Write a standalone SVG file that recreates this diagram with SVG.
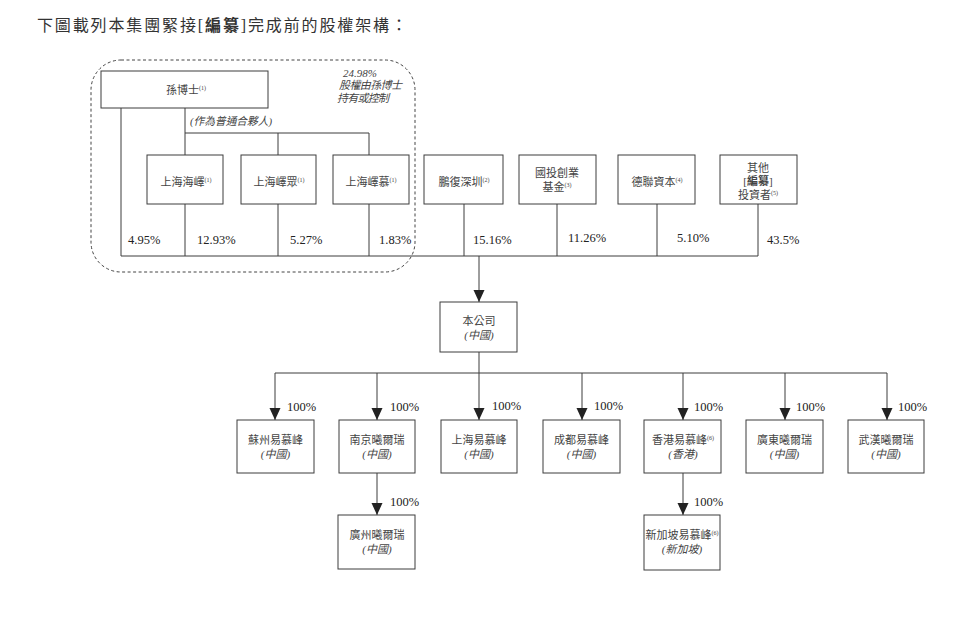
<svg xmlns="http://www.w3.org/2000/svg" width="960" height="627" viewBox="0 0 960 627">
<style>
  .bg{fill:#ffffff}
  .box{fill:#ffffff;stroke:#3c3c3c;stroke-width:1}
  .ln{stroke:#3c3c3c;stroke-width:1;fill:none}
  .dash{fill:none;stroke:#444;stroke-width:1;stroke-dasharray:3,2.5}
  .t{font-family:"Liberation Serif","Noto Sans CJK TC",serif;font-size:11px;fill:#444;text-anchor:middle}
  .it{font-style:italic}
  .st{text-anchor:start}
  .pct{font-family:"Liberation Serif","Noto Sans CJK TC",serif;font-size:12.5px;fill:#222}
  .sup{font-size:6px}
  .title{font-family:"Liberation Serif","Noto Sans CJK TC",serif;font-size:16px;fill:#333}
</style>
<defs>
  <marker id="ah" markerUnits="userSpaceOnUse" markerWidth="12" markerHeight="13" refX="12" refY="6" orient="auto" viewBox="0 0 12 12">
    <path d="M0,0.5 L12,6 L0,11.5 Z" fill="#222"/>
  </marker>
</defs>
<rect class="bg" x="0" y="0" width="960" height="627"/>

<text class="title" x="37" y="31" textLength="370" lengthAdjust="spacing">下圖載列本集團緊接[<tspan font-weight="bold">編纂</tspan>]完成前的股權架構：</text>

<g id="group-sun">
  <rect class="dash" x="91" y="60" width="324" height="212" rx="30" ry="30"/>
  <text class="t it st" x="343" y="77">24.98%</text>
  <text class="t it st" x="339" y="89" textLength="63" lengthAdjust="spacing">股權由孫博士</text>
  <text class="t it st" x="337" y="102" textLength="52" lengthAdjust="spacing">持有或控制</text>
</g>

<g id="connectors">
  <line class="ln" x1="121" y1="108" x2="121" y2="256"/>
  <line class="ln" x1="185" y1="108" x2="185" y2="133"/>
  <line class="ln" x1="185" y1="133" x2="369" y2="133"/>
  <line class="ln" x1="185" y1="133" x2="185" y2="155"/>
  <line class="ln" x1="278" y1="133" x2="278" y2="155"/>
  <line class="ln" x1="369" y1="133" x2="369" y2="155"/>
  <line class="ln" x1="185" y1="204" x2="185" y2="256"/>
  <line class="ln" x1="278" y1="204" x2="278" y2="256"/>
  <line class="ln" x1="369" y1="204" x2="369" y2="256"/>
  <line class="ln" x1="464" y1="204" x2="464" y2="256"/>
  <line class="ln" x1="557" y1="204" x2="557" y2="256"/>
  <line class="ln" x1="657" y1="204" x2="657" y2="256"/>
  <line class="ln" x1="758" y1="204" x2="758" y2="256"/>
  <line class="ln" x1="121" y1="256" x2="758" y2="256"/>
  <line class="ln" x1="479" y1="256" x2="479" y2="302" marker-end="url(#ah)"/>
  <line class="ln" x1="479" y1="352" x2="479" y2="373"/>
  <line class="ln" x1="275" y1="373" x2="887" y2="373"/>
  <line class="ln" x1="275" y1="373" x2="275" y2="420" marker-end="url(#ah)"/>
  <line class="ln" x1="377" y1="373" x2="377" y2="420" marker-end="url(#ah)"/>
  <line class="ln" x1="479" y1="373" x2="479" y2="420" marker-end="url(#ah)"/>
  <line class="ln" x1="582" y1="373" x2="582" y2="420" marker-end="url(#ah)"/>
  <line class="ln" x1="683" y1="373" x2="683" y2="420" marker-end="url(#ah)"/>
  <line class="ln" x1="785" y1="373" x2="785" y2="420" marker-end="url(#ah)"/>
  <line class="ln" x1="887" y1="373" x2="887" y2="420" marker-end="url(#ah)"/>
  <line class="ln" x1="377" y1="473" x2="377" y2="515" marker-end="url(#ah)"/>
  <line class="ln" x1="683" y1="473" x2="683" y2="515" marker-end="url(#ah)"/>

  <text class="t it st" x="190" y="125" textLength="82" lengthAdjust="spacingAndGlyphs">(作為普通合夥人)</text>

  <text class="pct" x="128" y="244">4.95%</text>
  <text class="pct" x="197" y="244">12.93%</text>
  <text class="pct" x="290" y="244">5.27%</text>
  <text class="pct" x="379" y="244">1.83%</text>
  <text class="pct" x="473" y="244">15.16%</text>
  <text class="pct" x="568" y="242">11.26%</text>
  <text class="pct" x="677" y="242">5.10%</text>
  <text class="pct" x="767" y="244">43.5%</text>

  <text class="pct" x="287" y="411">100%</text>
  <text class="pct" x="390" y="411">100%</text>
  <text class="pct" x="492" y="410">100%</text>
  <text class="pct" x="594" y="410">100%</text>
  <text class="pct" x="694" y="411">100%</text>
  <text class="pct" x="796" y="411">100%</text>
  <text class="pct" x="898" y="411">100%</text>
  <text class="pct" x="390" y="506">100%</text>
  <text class="pct" x="694" y="506">100%</text>
</g>

<g id="n-sun">
  <rect class="box" x="101" y="71" width="167" height="37"/>
  <text class="t" x="186" y="94">孫博士<tspan class="sup" dy="-4">(1)</tspan></text>
</g>
<g id="n-haiyi">
  <rect class="box" x="147" y="155" width="76" height="49"/>
  <text class="t" x="186" y="186">上海海嶧<tspan class="sup" dy="-4">(1)</tspan></text>
</g>
<g id="n-yizhong">
  <rect class="box" x="241" y="155" width="75" height="49"/>
  <text class="t" x="279" y="186">上海嶧眾<tspan class="sup" dy="-4">(1)</tspan></text>
</g>
<g id="n-yimu">
  <rect class="box" x="333" y="155" width="76" height="49"/>
  <text class="t" x="371" y="186">上海嶧慕<tspan class="sup" dy="-4">(1)</tspan></text>
</g>
<g id="n-pengfu">
  <rect class="box" x="424" y="155" width="79" height="49"/>
  <text class="t" x="464" y="186">鵬復深圳<tspan class="sup" dy="-4">(2)</tspan></text>
</g>
<g id="n-guotou">
  <rect class="box" x="519" y="155" width="77" height="49"/>
  <text class="t" x="557" y="177">國投創業</text>
  <text class="t" x="557" y="191">基金<tspan class="sup" dy="-4">(3)</tspan></text>
</g>
<g id="n-delian">
  <rect class="box" x="618" y="155" width="77" height="49"/>
  <text class="t" x="657" y="186">德聯資本<tspan class="sup" dy="-4">(4)</tspan></text>
</g>
<g id="n-others">
  <rect class="box" x="720" y="155" width="77" height="49"/>
  <text class="t" x="758" y="172">其他</text>
  <text class="t" x="758" y="185">[<tspan font-weight="bold">編纂</tspan>]</text>
  <text class="t" x="758" y="199">投資者<tspan class="sup" dy="-4">(5)</tspan></text>
</g>

<g id="n-company">
  <rect class="box" x="440" y="302" width="77" height="50"/>
  <text class="t" x="479" y="325">本公司</text>
  <text class="t it" x="479" y="339">(中國)</text>
</g>

<g id="n-suzhou">
  <rect class="box" x="237" y="420" width="77" height="53"/>
  <text class="t" x="275.5" y="444">蘇州易慕峰</text>
  <text class="t it" x="275.5" y="458">(中國)</text>
</g>
<g id="n-nanjing">
  <rect class="box" x="339" y="420" width="76" height="53"/>
  <text class="t" x="377" y="444">南京曦爾瑞</text>
  <text class="t it" x="377" y="458">(中國)</text>
</g>
<g id="n-shanghai">
  <rect class="box" x="441" y="420" width="76" height="53"/>
  <text class="t" x="479" y="444">上海易慕峰</text>
  <text class="t it" x="479" y="458">(中國)</text>
</g>
<g id="n-chengdu">
  <rect class="box" x="543" y="420" width="77" height="53"/>
  <text class="t" x="581.5" y="444">成都易慕峰</text>
  <text class="t it" x="581.5" y="458">(中國)</text>
</g>
<g id="n-hongkong">
  <rect class="box" x="644" y="420" width="77" height="53"/>
  <text class="t" x="683" y="444">香港易慕峰<tspan class="sup" dy="-4">(6)</tspan></text>
  <text class="t it" x="683" y="458">(香港)</text>
</g>
<g id="n-guangdong">
  <rect class="box" x="746" y="420" width="77" height="53"/>
  <text class="t" x="784.5" y="444">廣東曦爾瑞</text>
  <text class="t it" x="784.5" y="458">(中國)</text>
</g>
<g id="n-wuhan">
  <rect class="box" x="848" y="420" width="76" height="53"/>
  <text class="t" x="886" y="444">武漢曦爾瑞</text>
  <text class="t it" x="886" y="458">(中國)</text>
</g>

<g id="n-guangzhou">
  <rect class="box" x="338" y="515" width="77" height="54"/>
  <text class="t" x="377" y="539">廣州曦爾瑞</text>
  <text class="t it" x="377" y="553">(中國)</text>
</g>
<g id="n-singapore">
  <rect class="box" x="644" y="515" width="76" height="55"/>
  <text class="t" x="682" y="539">新加坡易慕峰<tspan class="sup" dy="-4">(6)</tspan></text>
  <text class="t it" x="682" y="553">(新加坡)</text>
</g>
</svg>
